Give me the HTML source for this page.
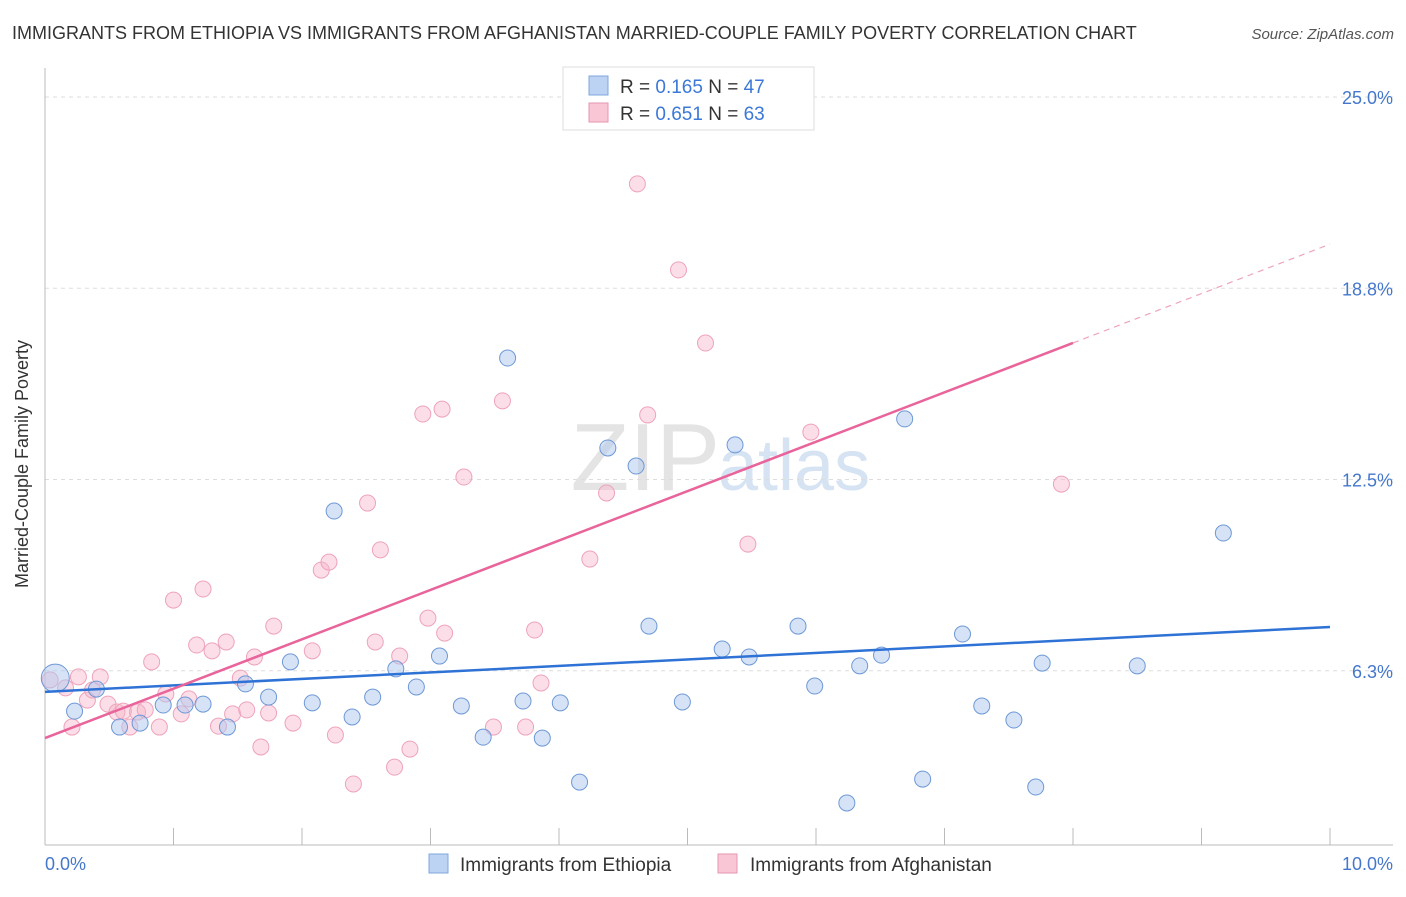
<!DOCTYPE html>
<html><head><meta charset="utf-8"><style>
body{margin:0;background:#fff;font-family:"Liberation Sans",sans-serif;}
svg text{font-family:"Liberation Sans",sans-serif;}
</style></head><body>
<svg id="chart" width="1406" height="892">
<text x="12" y="39" font-size="18" fill="#333">IMMIGRANTS FROM ETHIOPIA VS IMMIGRANTS FROM AFGHANISTAN MARRIED-COUPLE FAMILY POVERTY CORRELATION CHART</text>
<text x="1394" y="39" font-size="15" fill="#555" text-anchor="end" font-style="italic">Source: ZipAtlas.com</text>
<text x="720" y="490" font-size="96" fill="#e4e4e4" text-anchor="end" font-family="Liberation Serif">ZIP</text>
<text x="718" y="490" font-size="72" fill="#d6e3f3">atlas</text>
<g id="grid"></g>
<line x1="45" y1="68" x2="45" y2="845" stroke="#bbb"/>
<line x1="45" y1="845" x2="1393" y2="845" stroke="#bbb"/>
<text x="20" y="456" font-size="18" fill="#333" text-anchor="middle" transform="rotate(-90 28 456)">Married-Couple Family Poverty</text>
<text x="45" y="870" font-size="18" fill="#4477cc">0.0%</text>
<text x="1393" y="870" font-size="18" fill="#4477cc" text-anchor="end">10.0%</text>
<g id="pts"></g>
<g id="lines"></g>
<g>
<rect x="563" y="67" width="251" height="63" fill="#fff" stroke="#ddd"/>
<rect x="589" y="76" width="19" height="19" fill="#bcd3f3" stroke="#7fa6de"/>
<rect x="589" y="103" width="19" height="19" fill="#f8c6d5" stroke="#e995b0"/>
<text x="620" y="93" font-size="19" fill="#333">R = <tspan fill="#3b78d8">0.165</tspan>   N = <tspan fill="#3b78d8">47</tspan></text>
<text x="620" y="120" font-size="19" fill="#333">R = <tspan fill="#3b78d8">0.651</tspan>   N = <tspan fill="#3b78d8">63</tspan></text>
</g>
<g>
<rect x="429" y="854" width="19" height="19" fill="#bcd3f3" stroke="#7fa6de"/>
<text x="460" y="871" font-size="19" fill="#333">Immigrants from Ethiopia</text>
<rect x="718" y="854" width="19" height="19" fill="#f8c6d5" stroke="#e995b0"/>
<text x="750" y="871" font-size="19" fill="#333">Immigrants from Afghanistan</text>
</g>
</svg>
<script>
const yTicks=[25,18.75,12.5,6.25];
const yTickLabels=["25.0%","18.8%","12.5%","6.3%"];
const xTicks=[0,1,2,3,4,5,6,7,8,9,10];
const ethX=[0.08,0.23,0.40,0.58,0.74,0.92,1.09,1.23,1.42,1.56,1.74,1.91,2.08,2.25,2.39,2.55,2.73,2.89,3.07,3.24,3.41,3.60,3.72,3.87,4.01,4.16,4.38,4.60,4.70,4.96,5.27,5.37,5.48,5.86,5.99,6.24,6.34,6.51,6.69,6.83,7.14,7.29,7.54,7.71,7.76,8.50,9.17];
const ethY=[6.01,4.93,5.65,4.41,4.54,5.13,5.13,5.16,4.41,5.82,5.39,6.54,5.20,11.47,4.74,5.39,6.31,5.72,6.73,5.10,4.08,16.47,5.26,4.05,5.20,2.61,13.53,12.94,7.71,5.23,6.96,13.63,6.70,7.71,5.75,1.93,6.41,6.76,14.48,2.71,7.45,5.10,4.64,2.45,6.50,6.41,10.75];
const afgX=[0.04,0.16,0.21,0.26,0.33,0.37,0.43,0.49,0.56,0.61,0.66,0.72,0.78,0.83,0.89,0.94,1.00,1.06,1.12,1.18,1.23,1.30,1.35,1.41,1.46,1.52,1.57,1.63,1.68,1.74,1.78,1.93,2.08,2.15,2.21,2.26,2.40,2.51,2.57,2.61,2.72,2.76,2.84,2.94,2.98,3.09,3.11,3.26,3.49,3.56,3.74,3.81,3.86,4.24,4.37,4.61,4.69,4.93,5.14,5.47,5.96,7.91];
const afgY=[5.95,5.69,4.41,6.05,5.29,5.62,6.05,5.16,4.90,4.93,4.41,4.90,4.97,6.54,4.41,5.49,8.56,4.84,5.33,7.09,8.92,6.90,4.44,7.19,4.84,6.01,4.97,6.70,3.76,4.87,7.71,4.54,6.90,9.54,9.80,4.15,2.55,11.73,7.19,10.20,3.10,6.73,3.69,14.64,7.97,14.80,7.48,12.58,4.41,15.07,4.41,7.58,5.85,9.90,12.06,22.16,14.61,19.35,16.96,10.39,14.05,12.35];
const ethLine=[5.56,7.68];
const afgLine=[4.05,20.19];
const afgSolidEnd=8;
const NS="http://www.w3.org/2000/svg";
const xs=v=>45+v*128.5;
const ys=v=>97+(25-v)*30.6;
function mk(t,a,p){const e=document.createElementNS(NS,t);for(const k in a)e.setAttribute(k,a[k]);p.appendChild(e);return e;}
const grid=document.getElementById('grid');
yTicks.forEach((t,i)=>{
 const l=mk('line',{x1:45,x2:1393,y1:ys(t),y2:ys(t),stroke:'#ddd','stroke-dasharray':'4,4'},grid);
 
 
 const tx=mk('text',{x:1393,y:ys(t)+7,'font-size':18,fill:'#4477cc','text-anchor':'end'},grid);
 tx.textContent=yTickLabels[i];
 
 
});
xTicks.forEach(t=>{
 const l=mk('line',{x1:xs(t),x2:xs(t),y1:828,y2:845,stroke:'#bbb'},grid);
 
 
});
const pts=document.getElementById('pts');
afgX.forEach((x,i)=>{
 const c=mk('circle',{cx:xs(x),cy:ys(afgY[i]),r:8,fill:'rgba(246,182,202,0.45)',stroke:'#eea3bb','stroke-width':1},pts);
 
 
});
ethX.forEach((x,i)=>{
 const c=mk('circle',{cx:xs(x),cy:ys(ethY[i]),r:i===0?14:8,fill:'rgba(173,200,240,0.5)',stroke:'#6d98d6','stroke-width':1},pts);
 
 
});
const lines=document.getElementById('lines');
const bl=mk('line',{x1:xs(0),y1:ys(ethLine[0]),x2:xs(10),y2:ys(ethLine[1]),stroke:'#2f72d6','stroke-width':2.5},lines);


const slope=(afgLine[1]-afgLine[0])/10;
const pl=mk('line',{x1:xs(0),y1:ys(afgLine[0]),x2:xs(afgSolidEnd),y2:ys(afgLine[0]+slope*afgSolidEnd),stroke:'#e8649a','stroke-width':2.5},lines);


const pd=mk('line',{x1:xs(afgSolidEnd),y1:ys(afgLine[0]+slope*afgSolidEnd),x2:xs(10),y2:ys(afgLine[1]),stroke:'#eea3bb','stroke-width':1.2,'stroke-dasharray':'6,5'},lines);


</script>
</body></html>
